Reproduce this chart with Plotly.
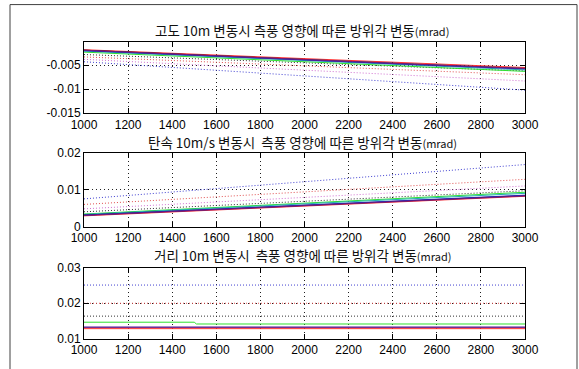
import plotly.graph_objects as go
from plotly.subplots import make_subplots

# Range samples (m)
x = [1000, 1500, 2000, 2500, 3000]
x_ticks = [1000, 1200, 1400, 1600, 1800, 2000, 2200, 2400, 2600, 2800, 3000]

# --- Altitude 10 m variation ---
alt_solid = {
    "r": [-0.0018, -0.0027, -0.0036, -0.0046, -0.0055],
    "g": [-0.0023, -0.0033, -0.0043, -0.0053, -0.0063],
    "c": [-0.0021, -0.0031, -0.0041, -0.0051, -0.0060],
    "k": [-0.0019, -0.0029, -0.0038, -0.0048, -0.0057],
    "b": [-0.0020, -0.0030, -0.0039, -0.0049, -0.0058],
    "m": [-0.0019, -0.0029, -0.0038, -0.0048, -0.0057],
}
alt_dotted = {
    "k": [-0.0028, -0.0037, -0.0045, -0.0054, -0.0062],
    "r": [-0.0033, -0.0042, -0.0051, -0.0061, -0.0070],
    "m": [-0.0038, -0.0049, -0.0060, -0.0072, -0.0083],
    "b": [-0.0043, -0.0058, -0.0073, -0.0087, -0.0102],
}

# --- Muzzle velocity 10 m/s variation ---
vel_solid = {
    "r": [0.0029, 0.0042, 0.0055, 0.0068, 0.0082],
    "g": [0.0034, 0.0049, 0.0063, 0.0078, 0.0093],
    "c": [0.0033, 0.0047, 0.0061, 0.0075, 0.0090],
    "k": [0.0031, 0.0044, 0.0057, 0.0070, 0.0084],
    "b": [0.0031, 0.0045, 0.0058, 0.0071, 0.0085],
    "m": [0.0030, 0.0043, 0.0056, 0.0069, 0.0083],
}
vel_dotted = {
    "k": [0.0040, 0.0054, 0.0068, 0.0083, 0.0097],
    "m": [0.0048, 0.0064, 0.0079, 0.0095, 0.0110],
    "r": [0.0060, 0.0077, 0.0094, 0.0111, 0.0128],
    "b": [0.0075, 0.0098, 0.0122, 0.0145, 0.0168],
}

# --- Range 10 m variation ---
rng_dotted = {
    "b": [0.0251, 0.0251, 0.0251, 0.0251, 0.0251],
    "r": [0.0200, 0.0200, 0.0200, 0.0200, 0.0200],
    "k": [0.0164, 0.0164, 0.0164, 0.0164, 0.0164],
}
rng_green_x = [1000, 1500, 1510, 3000]
rng_green_y = [0.0147, 0.0147, 0.0142, 0.0142]
rng_solid = {
    "r": [0.0129, 0.0129, 0.0129, 0.0129, 0.0129],
    "b": [0.0133, 0.0133, 0.0133, 0.0133, 0.0133],
    "m": [0.0133, 0.0133, 0.0133, 0.0133, 0.0133],
}

titles = [
    "고도 10m 변동시 측풍 영향에 따른 방위각 변동<span style='font-size:11px'>(mrad)</span>",
    "탄속 10m/s 변동시  측풍 영향에 따른 방위각 변동<span style='font-size:11px'>(mrad)</span>",
    "거리 10m 변동시  측풍 영향에 따른 방위각 변동<span style='font-size:11px'>(mrad)</span>",
]
y_ranges = [[-0.015, -0.0002], [0, 0.02], [0.01, 0.03]]
y_tickvals = [[-0.015, -0.01, -0.005], [0, 0.01, 0.02], [0.01, 0.02, 0.03]]
y_ticktext = [["-0.015", "-0.01", "-0.005"], ["0", "0.01", "0.02"], ["0.01", "0.02", "0.03"]]

SOLID = {"k": "#101010", "r": "#ff3030", "g": "#30e030", "b": "#2020c0",
         "c": "#20b0b0", "m": "#7a1a7a"}
DOTTED = {"k": "#303030", "r": "#e05050", "g": "#50c050", "b": "#4040d0",
          "c": "#40b0b0", "m": "#d070d0"}

W, H = 579, 369
L, R, T, B = 84, 525, 41.7, 341
plot_h = B - T


def py(px):
    return (B - px) / plot_h


domains = [[py(113.5), 1.0], [py(227.7), py(153.3)], [0.0, py(269)]]

fig = make_subplots(rows=3, cols=1)

def add(row, xs, ys, col, dotted):
    fig.add_trace(go.Scatter(
        x=xs, y=ys, mode="lines",
        line=dict(color=(DOTTED if dotted else SOLID)[col], width=1,
                  dash="1px,2px" if dotted else "solid"),
        showlegend=False, hoverinfo="skip"), row=row, col=1)

for c, v in alt_dotted.items():
    add(1, x, v, c, True)
for c, v in alt_solid.items():
    add(1, x, v, c, False)
for c, v in vel_dotted.items():
    add(2, x, v, c, True)
for c, v in vel_solid.items():
    add(2, x, v, c, False)
for c, v in rng_dotted.items():
    add(3, x, v, c, True)
add(3, rng_green_x, rng_green_y, "g", False)
for c, v in rng_solid.items():
    add(3, x, v, c, False)

axis_common = dict(
    showline=True, linecolor="black", linewidth=1, mirror="ticks",
    ticks="inside", ticklen=5, tickcolor="black",
    showgrid=True, gridcolor="#202020", gridwidth=1, griddash="1px,3px",
    zeroline=False, tickfont=dict(family="Liberation Sans", size=12, color="black"),
)

for i in range(3):
    n = "" if i == 0 else str(i + 1)
    fig.layout["xaxis" + n].update(
        domain=[0, 1], range=[1000, 3000], tickvals=x_ticks, **axis_common)
    fig.layout["yaxis" + n].update(
        domain=domains[i], range=y_ranges[i], tickvals=y_tickvals[i],
        ticktext=y_ticktext[i], **axis_common)

title_y = [30, 142, 256]
annotations = []
for t, ty in zip(titles, title_y):
    annotations.append(dict(
        text=t, xref="paper", yref="paper", x=0.495, y=py(ty),
        xanchor="center", yanchor="middle", showarrow=False,
        font=dict(family="Noto Sans CJK KR", size=13.5, color="#101010")))

fig.update_layout(
    width=W, height=H,
    margin=dict(l=L, r=W - R, t=T, b=H - B, pad=0),
    paper_bgcolor="white", plot_bgcolor="white",
    annotations=annotations,
    shapes=[dict(type="rect", xref="paper", yref="paper",
                 x0=(10 - L) / (R - L), x1=(577 - L) / (R - L),
                 y0=py(375), y1=py(4),
                 line=dict(color="#404040", width=1), layer="below")],
)

fig.write_html("out.html")
